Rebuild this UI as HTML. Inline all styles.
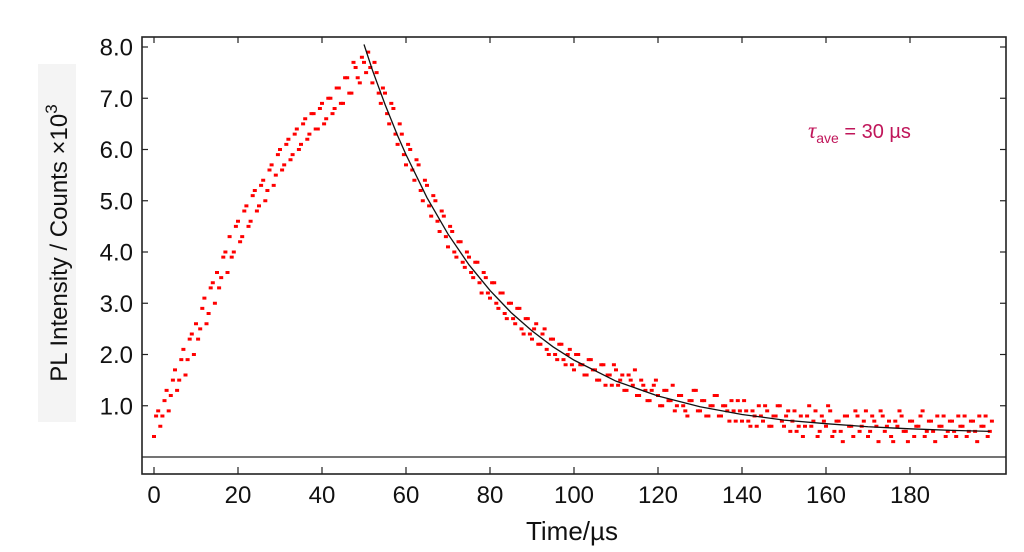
<!DOCTYPE html>
<html><head><meta charset="utf-8"><style>
body{margin:0;background:#fff}
svg{display:block;font-family:"Liberation Sans",sans-serif}
</style></head><body>
<svg id="chart" width="1024" height="552" viewBox="0 0 1024 552">
<rect x="38" y="64" width="38" height="358" fill="#f4f4f4"/>
<text transform="translate(67,243) rotate(-90)" text-anchor="middle" font-size="24" fill="#111">PL Intensity / Counts ×10<tspan dy="-10" font-size="17">3</tspan></text>
<text x="572" y="540" text-anchor="middle" font-size="26" fill="#111">Time/µs</text>
<text x="808" y="138" font-size="20" fill="#c0165a"><tspan font-style="italic" font-family="Liberation Serif,serif" font-size="23">τ</tspan><tspan dy="5" font-size="14">ave</tspan><tspan dy="-5"> = 30 µs</tspan></text>
<g id="marks"></g>
<g id="axes"></g>
</svg>
<script>
const yTicks=[1,2,3,4,5,6,7,8];
const yTickLabels=["1.0","2.0","3.0","4.0","5.0","6.0","7.0","8.0"];
const xTicks=[0,20,40,60,80,100,120,140,160,180];
const xTickLabels=["0","20","40","60","80","100","120","140","160","180"];
const countsA=[0.4,0.9,0.8,1.3,1.2,1.7,1.5,2.1,1.9,2.4,2.6,2.5,3.1,2.8,3.4,3.6,3.5,4.0,4.3,4.0,4.6,4.3,4.9,4.6,5.2,4.9,5.4,5.2,5.7,5.5,6.0,5.7,6.2,5.9,6.4,6.1,6.6,6.3,6.7,6.4,6.9,6.6,7.0,6.8,7.2,6.9,7.4,7.1,7.6,7.3,
7.7,7.9,7.3,7.5,6.9,7.1,6.5,6.8,6.1,6.3,5.7,6.0,5.4,5.7,5.0,5.3,4.7,5.0,4.4,4.7,4.1,4.4,3.9,4.2,3.7,3.9,3.5,3.8,3.2,3.5,3.1,3.4,2.9,3.2,2.7,3.0,2.6,2.9,2.4,2.7,2.3,2.6,2.2,2.5,2.0,2.3,1.9,2.2,1.8,2.1,
1.7,2.0,1.8,1.6,1.9,1.7,1.5,1.8,1.6,1.4,1.7,1.5,1.3,1.6,1.4,1.2,1.5,1.3,1.1,1.4,1.2,1.0,1.3,1.1,0.9,1.2,1.0,0.8,1.1,1.3,0.9,1.1,0.8,1.0,1.2,0.8,1.0,0.7,0.9,1.1,0.7,0.9,0.6,0.8,1.0,0.7,0.9,0.6,0.8,1.0,
0.6,0.9,0.7,0.5,0.8,0.6,1.0,0.7,0.4,0.8,0.6,0.9,0.5,0.7,0.3,0.8,0.6,0.9,0.5,0.7,0.4,0.8,0.6,0.9,0.5,0.7,0.3,0.6,0.8,0.5,0.7,0.4,0.6,0.9,0.5,0.7,0.3,0.6,0.8,0.5,0.7,0.4,0.6,0.8,0.5,0.7,0.3,0.6,0.8,0.5];
const countsB=[0.8,0.6,1.1,0.9,1.5,1.3,1.9,1.6,2.3,2.0,2.3,2.9,2.6,3.3,3.0,3.3,3.9,3.6,3.9,4.5,4.2,4.8,4.5,5.1,4.8,5.3,5.0,5.6,5.3,5.9,5.6,6.1,5.8,6.3,6.0,6.5,6.2,6.7,6.4,6.8,6.5,7.0,6.7,7.2,6.9,7.4,7.1,7.7,7.4,7.8,
7.5,7.6,7.7,7.1,7.2,6.7,6.9,6.3,6.5,5.9,6.1,5.6,5.8,5.2,5.4,4.9,5.1,4.6,4.8,4.3,4.5,4.0,4.2,3.8,4.0,3.6,3.8,3.4,3.6,3.2,3.4,3.0,3.2,2.8,3.0,2.7,2.9,2.5,2.7,2.4,2.5,2.2,2.4,2.1,2.3,2.0,2.2,1.9,2.0,1.8,
2.0,1.8,1.6,1.9,1.7,1.5,1.8,1.4,1.6,1.8,1.4,1.6,1.3,1.5,1.7,1.2,1.4,1.1,1.3,1.5,1.0,1.3,1.1,1.4,1.0,1.2,0.9,1.1,1.3,0.9,1.1,0.8,1.0,1.2,0.8,1.0,0.9,1.1,0.7,0.9,1.1,0.7,0.9,0.6,0.8,1.0,0.6,0.8,1.0,0.7,
0.8,0.5,0.9,0.6,0.4,0.8,0.6,0.9,0.5,0.7,1.0,0.4,0.7,0.5,0.8,0.6,0.4,0.8,0.6,0.9,0.5,0.7,0.3,0.8,0.6,0.4,0.7,0.9,0.5,0.3,0.7,0.6,0.8,0.4,0.7,0.5,0.8,0.6,0.4,0.7,0.5,0.8,0.6,0.4,0.7,0.5,0.8,0.6,0.4,0.7];
const fitTimes=[50,52,55,58,60,65,70,75,80,85,90,95,100,110,120,130,140,150,160,170,180,190,199];
const fitValues=[8.05,7.55,6.88,6.27,5.90,5.06,4.35,3.75,3.25,2.82,2.46,2.15,1.89,1.48,1.19,0.98,0.83,0.72,0.65,0.59,0.55,0.52,0.50];

const NS="http://www.w3.org/2000/svg";
const X0=154,PXT=4.2,Y0=457,PXV=51.25;
const L=142,T=37,R=1006,B=474;
function xs(t){return X0+t*PXT;}
function ys(v){return Y0-v*PXV;}
function mk(tag,attrs,parent){const e=document.createElementNS(NS,tag);for(const k in attrs)e.setAttribute(k,attrs[k]);parent.appendChild(e);return e;}
const marks=document.getElementById('marks');
const axes=document.getElementById('axes');

countsA.forEach((v,i)=>{
  const r=mk('rect',{x:xs(i)-2,y:ys(v)-1.5,width:4,height:3,fill:'#ff0000'},marks);
  
  
});
countsB.forEach((v,i)=>{
  const r=mk('rect',{x:xs(i+0.5)-2,y:ys(v)-1.5,width:4,height:3,fill:'#ff0000'},marks);
  
  
});
const fit=mk('polyline',{points:fitTimes.map((t,i)=>xs(t)+','+ys(fitValues[i])).join(' '),fill:'none',stroke:'#111',"stroke-width":1.3},marks);



const frame=mk('rect',{x:L,y:T,width:R-L,height:B-T,fill:'none',stroke:'#222',"stroke-width":1.6},axes);


const base=mk('line',{x1:L,x2:R,y1:ys(0),y2:ys(0),stroke:'#222',"stroke-width":1.3},axes);



yTicks.forEach((v,i)=>{
  const y=ys(v);
  mk('line',{x1:L,x2:L+6,y1:y,y2:y,stroke:'#222',"stroke-width":1.2},axes);
  mk('line',{x1:R-6,x2:R,y1:y,y2:y,stroke:'#222',"stroke-width":1.2},axes);
  const tx=mk('text',{x:133,y:y+8.5,"text-anchor":"end","font-size":24,fill:'#111'},axes);
  tx.textContent=yTickLabels[i];
  
  
});
xTicks.forEach((t,i)=>{
  const x=xs(t);
  mk('line',{x1:x,x2:x,y1:B,y2:B-7,stroke:'#222',"stroke-width":1.2},axes);
  mk('line',{x1:x,x2:x,y1:T,y2:T+6,stroke:'#222',"stroke-width":1.2},axes);
  const tx=mk('text',{x:x,y:503,"text-anchor":"middle","font-size":24,fill:'#111'},axes);
  tx.textContent=xTickLabels[i];
  
  
});
</script>
</body></html>
